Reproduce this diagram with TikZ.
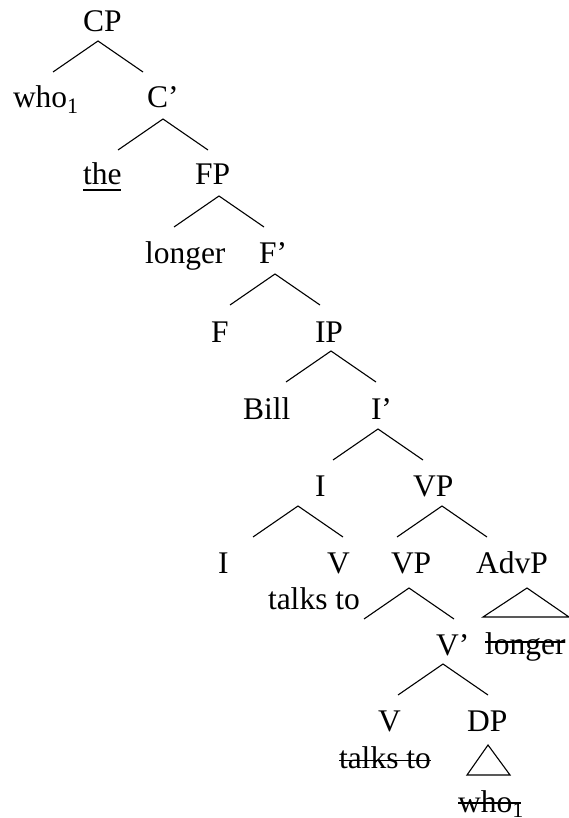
\documentclass[tikz,border=0pt]{standalone}
\usepackage{fontspec}
\setmainfont{Liberation Serif}
\begin{document}
\begin{tikzpicture}[x=1pt,y=-1pt,
  lbl/.style={anchor=base west,inner sep=0pt,outer sep=0pt,font=\fontsize{31.5}{38}\selectfont},
  br/.style={line width=1.1pt,line join=miter},
  strk/.style={line width=1.6pt}]
\useasboundingbox (0,0) rectangle (569,818);
% labels
\node[lbl] (CP) at (83,32) {CP};
\node[lbl] (who) at (13,108) {who\textsubscript{1}};
\node[lbl] (Cbar) at (147,108) {C’};
\node[lbl] (the) at (83,185) {the};
\node[lbl] (FP) at (195,185) {FP};
\node[lbl] (longer) at (145,263) {longer};
\node[lbl] (Fbar) at (259,263) {F’};
\node[lbl] (F) at (211,342) {F};
\node[lbl] (IP) at (315,342) {IP};
\node[lbl] (Bill) at (243,419) {Bill};
\node[lbl] (Ibar) at (371,419) {I’};
\node[lbl] (I) at (315,496) {I};
\node[lbl] (VP) at (413,496) {VP};
\node[lbl] (Ilow) at (218,573) {I};
\node[lbl] (V) at (327,573) {V};
\node[lbl] (VPlow) at (391,573) {VP};
\node[lbl] (AdvP) at (476,573) {AdvP};
\node[lbl] (talks) at (268,609) {talks to};
\node[lbl] (Vbar) at (436,655) {V’};
\node[lbl] (longerT) at (485,654) {longer};
\node[lbl] (Vlow) at (378,731) {V};
\node[lbl] (DP) at (467,731) {DP};
\node[lbl] (talksT) at (339,768) {talks to};
\node[lbl] (whoT) at (458,812) {who\textsubscript{1}};
% underline and strike-throughs
\draw[line width=1.6pt] ([yshift=-5pt]the.base west) -- ([yshift=-5pt]the.base east);
\draw[strk] ([yshift=12pt]longerT.base west) -- ([yshift=12pt]longerT.base east);
\draw[strk] ([yshift=7.5pt]talksT.base west) -- ([yshift=7.5pt]talksT.base east);
\draw[strk] ([yshift=9pt]whoT.base west) -- ([yshift=9pt,xshift=-3pt]whoT.base east);
% branches
\coordinate (aCP) at (98,41);
\coordinate (aC) at (163,119);
\coordinate (aFP) at (219,196);
\coordinate (aF) at (275,274);
\coordinate (aIP) at (331,351);
\coordinate (aI) at (378,429);
\coordinate (aIh) at (298,506);
\coordinate (aVP) at (442,506);
\coordinate (aVPl) at (409,588);
\coordinate (aV) at (443,664);
\foreach \a in {aCP,aC,aFP,aF,aIP,aI,aIh,aVP,aVPl,aV}
  \draw[br] (\a) ++(-45,31) -- (\a) -- ++(45,31);
% triangles
\coordinate (tAdv) at (527,588);
\coordinate (tDP) at (488,745);
\draw[br] (tAdv) -- ++(-44,29) -- ++(86,0) -- cycle;
\draw[br] (tDP) -- ++(-21,30) -- ++(43,0) -- cycle;
\end{tikzpicture}
\end{document}
